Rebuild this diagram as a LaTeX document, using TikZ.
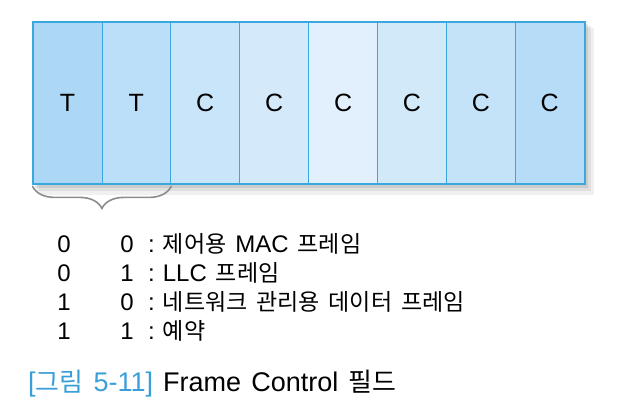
\documentclass[tikz,border=0pt]{standalone}
\usepackage{fontspec}
\setmainfont{Liberation Sans}[WordSpace=1.35]
\newfontfamily\kr{Noto Sans CJK KR}[Scale=0.96, WordSpace=1.7]
\usetikzlibrary{positioning, decorations.pathreplacing, shadows}

\definecolor{cellA}{HTML}{ADD8F5}
\definecolor{cellB}{HTML}{BBDFF8}
\definecolor{cellC}{HTML}{C8E5F9}
\definecolor{cellD}{HTML}{D4EAFA}
\definecolor{cellE}{HTML}{E1F0FC}
\definecolor{cellF}{HTML}{D2E9FA}
\definecolor{cellG}{HTML}{C5E3F8}
\definecolor{cellH}{HTML}{B6DCF7}
\definecolor{frameblue}{HTML}{3BA7DF}
\definecolor{capblue}{HTML}{3A9FD8}

\tikzset{
  field/.style={draw=frameblue, line width=0.8pt, minimum width=68.9pt,
    minimum height=162pt, inner sep=0pt, font=\fontsize{25}{25}\selectfont},
  bit/.style={font=\fontsize{24}{24}\selectfont, inner sep=0pt},
  meaning/.style={font=\fontsize{24}{24}\selectfont, inner sep=0pt, anchor=west}
}

\begin{document}
\begin{tikzpicture}[x=1pt, y=-1pt]
  \useasboundingbox (0,0) rectangle (624,410);
  % shadow and outline of the field
  \fill[gray, opacity=0.12] (39,28) rectangle (594,195);
  \fill[gray, opacity=0.15] (37,26) rectangle (591,191);
  \fill[gray, opacity=0.2] (35,24) rectangle (588,188);
  \fill[white] (33,22) rectangle (584,184);
  \foreach \i/\c/\t in {1/cellA/T, 2/cellB/T, 3/cellC/C, 4/cellD/C,
                        5/cellE/C, 6/cellF/C, 7/cellG/C, 8/cellH/C}{
      \node[field, fill=\c] (f\i) at ({33+68.9*(\i-0.5)},103) {\t};
  }
  \draw[frameblue, line width=2pt] (f1.north west) rectangle (f8.south east);

  % brace below the two T bits
  \draw[gray!90, line width=1.6pt, line cap=round,
        decorate, decoration={brace, mirror, amplitude=22pt}]
        ([yshift=-2pt]f1.south west) -- ([yshift=-2pt]f2.south east);

  % bit values
  \foreach \r/\a/\b/\m in {1/0/0/{{\kr 제어용} MAC {\kr 프레임}},
                           2/0/1/{LLC {\kr 프레임}},
                           3/1/0/{{\kr 네트워크 관리용 데이터 프레임}},
                           4/1/1/{{\kr 예약}}}{
      \node[bit] (a\r) at (64,{244+29*(\r-1)}) {\a};
      \node[bit] (b\r) at (127,{244+29*(\r-1)}) {\b};
      \node[meaning] (m\r) at (148,{244+29*(\r-1)}) {:\hspace{8pt}\m};
  }

  % caption
  \node[anchor=west, inner sep=0pt, font=\fontsize{27}{27}\selectfont]
       (caption) at (28,384)
       {\textcolor{capblue}{[{\kr 그림} 5-11]} Frame Control {\kr 필드}};
\end{tikzpicture}
\end{document}
